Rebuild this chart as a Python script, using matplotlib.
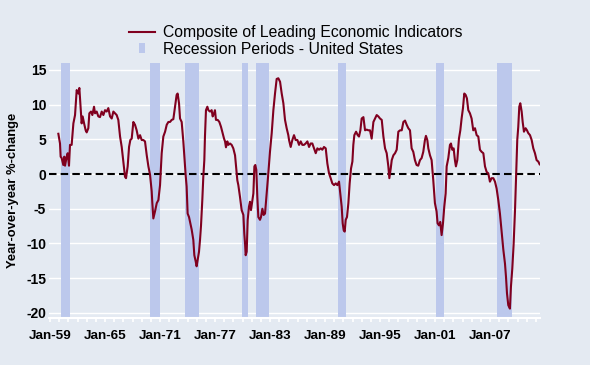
import numpy as np
import matplotlib
matplotlib.use("Agg")
import matplotlib.pyplot as plt
from matplotlib.lines import Line2D

plt.rcParams["font.family"] = ["Liberation Sans", "DejaVu Sans"]

# Composite of Leading Economic Indicators, y/y % change
years = [
    1959.91, 1960.09, 1960.16, 1960.27, 1960.45, 1960.56, 1960.64, 1960.82, 1960.93, 1961.07,
    1961.18, 1961.36, 1961.55, 1961.73, 1961.91, 1962.09, 1962.20, 1962.35, 1962.45, 1962.56,
    1962.75, 1962.89, 1963.00, 1963.18, 1963.29, 1963.47, 1963.62, 1963.80, 1963.91, 1964.09,
    1964.27, 1964.45, 1964.64, 1964.82, 1965.00, 1965.18, 1965.36, 1965.55, 1965.73, 1965.91,
    1966.09, 1966.27, 1966.45, 1966.64, 1966.82, 1967.00, 1967.18, 1967.29, 1967.47, 1967.62,
    1967.76, 1967.91, 1968.09, 1968.27, 1968.45, 1968.64, 1968.82, 1969.00, 1969.18, 1969.36,
    1969.55, 1969.73, 1969.91, 1970.09, 1970.16, 1970.27, 1970.45, 1970.64, 1970.82, 1971.00,
    1971.18, 1971.36, 1971.55, 1971.73, 1971.91,
    1972.09, 1972.27, 1972.45, 1972.63, 1972.81, 1972.92, 1973.07, 1973.18, 1973.36, 1973.54,
    1973.65, 1973.79, 1973.90, 1974.01, 1974.16, 1974.30, 1974.45, 1974.63, 1974.74, 1974.89,
    1974.99, 1975.10, 1975.25, 1975.36, 1975.47, 1975.61, 1975.72, 1975.83, 1975.90, 1976.01,
    1976.16, 1976.27, 1976.45, 1976.63, 1976.74, 1976.89, 1976.99, 1977.10, 1977.29, 1977.47,
    1977.65, 1977.79, 1977.98, 1978.09, 1978.19, 1978.34, 1978.45, 1978.63, 1978.81, 1978.99,
    1979.18, 1979.29, 1979.43, 1979.54, 1979.72, 1979.90, 1980.09, 1980.19, 1980.27, 1980.34,
    1980.45, 1980.56, 1980.70, 1980.81, 1980.92, 1981.07, 1981.18, 1981.29, 1981.39, 1981.50,
    1981.61, 1981.72, 1981.90, 1982.01, 1982.16, 1982.30, 1982.45, 1982.63, 1982.81, 1982.99,
    1983.18, 1983.36, 1983.54, 1983.72, 1983.90, 1984.09, 1984.27, 1984.45, 1984.63, 1984.81,
    1984.99,
    1985.07, 1985.25, 1985.43, 1985.61, 1985.79, 1985.98, 1986.16, 1986.34, 1986.52, 1986.70,
    1986.88, 1987.07, 1987.25, 1987.43, 1987.61, 1987.79, 1987.98, 1988.16, 1988.34, 1988.52,
    1988.70, 1988.88, 1989.07, 1989.25, 1989.43, 1989.61, 1989.79, 1989.98, 1990.16, 1990.34,
    1990.52, 1990.67, 1990.81, 1990.92, 1991.03, 1991.14, 1991.25, 1991.39, 1991.54, 1991.68,
    1991.83, 1991.98, 1992.08, 1992.19, 1992.38, 1992.56, 1992.70, 1992.85, 1992.99, 1993.18,
    1993.36, 1993.54, 1993.72, 1993.90, 1994.08, 1994.27, 1994.45, 1994.63, 1994.81, 1994.99,
    1995.18, 1995.36, 1995.54, 1995.72, 1995.90, 1996.01, 1996.16, 1996.27, 1996.45, 1996.63,
    1996.81, 1996.99, 1997.18, 1997.36, 1997.54, 1997.72, 1997.90, 1998.08,
    1998.26, 1998.44, 1998.62, 1998.80, 1998.98, 1999.16, 1999.35, 1999.53, 1999.71, 1999.89,
    2000.00, 2000.15, 2000.26, 2000.44, 2000.62, 2000.80, 2000.98, 2001.16, 2001.27, 2001.42,
    2001.56, 2001.71, 2001.86, 2002.00, 2002.15, 2002.26, 2002.44, 2002.62, 2002.73, 2002.87,
    2003.02, 2003.16, 2003.27, 2003.42, 2003.60, 2003.75, 2003.89, 2004.04, 2004.18, 2004.33,
    2004.47, 2004.62, 2004.80, 2004.98, 2005.16, 2005.35, 2005.53, 2005.71, 2005.89, 2006.07,
    2006.26, 2006.44, 2006.62, 2006.80, 2006.98, 2007.16, 2007.35, 2007.53, 2007.71, 2007.89,
    2008.07, 2008.26, 2008.44, 2008.62, 2008.73, 2008.84, 2008.98, 2009.16, 2009.27, 2009.42,
    2009.56, 2009.71, 2009.86, 2009.96, 2010.07, 2010.18, 2010.29, 2010.44, 2010.55, 2010.69,
    2010.87, 2011.02, 2011.16, 2011.35, 2011.53, 2011.71, 2011.89, 2012.07, 2012.25, 2012.40,
]
lei_yoy = [
    5.8, 4.4, 2.5, 2.3, 1.3, 2.5, 1.2, 2.5, 3.0, 1.2,
    4.2, 4.2, 7.3, 8.5, 12.1, 11.6, 12.4, 9.2, 7.3, 8.3,
    7.1, 6.3, 6.0, 6.6, 8.75, 9.0, 8.5, 9.7, 8.75, 9.0,
    8.3, 8.2, 9.0, 8.5, 9.2, 9.0, 9.5, 8.3, 8.0, 9.0,
    8.75, 8.5, 7.8, 5.4, 3.9, 1.8, -0.4, -0.6, 1.1, 3.9,
    4.9, 5.1, 7.5, 7.1, 6.3, 5.1, 5.6, 4.9, 4.9, 4.7,
    2.7, 1.1, -0.1, -2.5, -4.2, -6.4, -5.4, -4.2, -3.75, -1.6,
    3.0, 5.4, 6.1, 7.1, 7.5,
    7.5, 7.8, 7.9, 9.7, 11.4, 11.6, 10.2, 8.0, 7.5, 4.7,
    2.5, -0.1, -1.8, -5.7, -6.2, -7.1, -8.0, -9.5, -11.7, -12.6,
    -13.3, -12.4, -11.2, -9.5, -7.4, -3.75, -0.4, 2.0, 5.4, 9.2,
    9.7, 9.2, 9.0, 9.2, 8.3, 8.75, 9.2, 7.8, 7.8, 7.5,
    6.8, 6.1, 5.1, 4.7, 3.85, 4.7, 4.2, 4.4, 4.2, 3.7,
    2.7, 1.1, -0.9, -1.6, -3.3, -5.2, -5.9, -8.6, -10.0, -11.7,
    -11.2, -6.6, -4.7, -4.0, -5.2, -3.75, -2.8, 1.1, 1.3, 0.6,
    -3.3, -6.2, -6.6, -6.2, -5.0, -5.9, -5.7, -2.8, 0.1, 3.2,
    5.9, 9.2, 11.6, 13.7, 13.8, 13.3, 11.6, 10.2, 7.8, 6.6,
    5.6,
    4.9, 3.9, 4.9, 5.6, 4.9, 4.9, 4.2, 4.7, 4.2, 4.2,
    4.4, 4.7, 3.9, 4.4, 4.4, 3.7, 3.0, 3.7, 3.5, 3.7,
    3.5, 3.9, 3.7, 1.5, 0.1, -0.6, -1.35, -1.6, -1.35, -1.6,
    -1.1, -3.0, -4.7, -7.1, -8.1, -8.3, -6.6, -6.2, -4.2, -1.35,
    0.8, 1.8, 4.2, 5.6, 6.1, 5.6, 5.4, 6.3, 8.0, 8.2,
    6.3, 6.4, 6.3, 6.3, 5.1, 7.5, 8.0, 8.5, 8.3, 8.0,
    7.8, 5.4, 3.7, 3.0, 1.1, -0.6, 0.8, 2.0, 2.7, 3.0,
    3.5, 6.1, 6.3, 6.3, 7.5, 7.7, 7.1, 6.6,
    6.3, 3.7, 3.2, 2.0, 1.3, 1.2, 2.0, 2.3, 3.2, 4.9,
    5.5, 4.9, 3.7, 2.7, 2.0, -0.9, -4.2, -5.4, -7.1, -7.4,
    -6.9, -8.8, -7.1, -4.7, -2.8, 1.1, 2.3, 4.2, 4.4, 3.5,
    3.7, 2.0, 1.1, 2.0, 5.1, 6.3, 8.0, 9.5, 11.6, 11.4,
    10.9, 9.2, 8.75, 8.0, 6.3, 6.6, 5.6, 5.4, 3.5, 3.2,
    3.0, 1.1, 0.3, 0.1, -1.1, -0.6, -0.6, -1.1, -2.1, -3.75,
    -5.7, -8.3, -10.9, -12.9, -14.8, -17.2, -18.9, -19.4, -16.25, -13.6,
    -10.2, -5.4, 0.6, 4.9, 6.8, 9.7, 10.2, 9.0, 7.5, 6.1,
    6.6, 6.3, 5.9, 5.6, 4.9, 3.7, 3.0, 2.0, 1.8, 1.4,
]

# US recession periods (NBER)
rec_start = [1960.20, 1969.91, 1973.72, 1979.94, 1981.46, 1990.41, 2001.09, 2007.75]
rec_end = [1961.18, 1971.00, 1975.25, 1980.59, 1982.88, 1991.31, 2001.97, 2009.38]

tick_years = [1959, 1965, 1971, 1977, 1983, 1989, 1995, 2001, 2007]
tick_labels = ["Jan-59", "Jan-65", "Jan-71", "Jan-77", "Jan-83",
               "Jan-89", "Jan-95", "Jan-01", "Jan-07"]
y_ticks = [-20, -15, -10, -5, 0, 5, 10, 15]

BG = "#e4eaf2"
SHADE = "#bcc8ec"
RED = "#80001f"

fig = plt.figure(figsize=(5.9, 3.65), dpi=100, facecolor=BG)
ax = fig.add_axes([49 / 590, 1 - 318 / 365, 491 / 590, 255 / 365], facecolor=BG)

for yv in y_ticks:
    ax.axhline(yv, color="white", lw=1.0, zorder=1)

for s, e in zip(rec_start, rec_end):
    ax.axvspan(s, e, color=SHADE, lw=0, zorder=2)

ax.axhline(0, color="black", lw=1.5, dashes=(3.6, 2.0), zorder=3)
ax.plot(years, lei_yoy, color=RED, lw=1.5, zorder=4)

ax.set_xlim(1958.89, 2012.44)
ax.set_ylim(-20.75, 16.0)

ax.set_xticks(tick_years)
ax.set_xticklabels(tick_labels, fontsize=9.7, fontweight="bold")
ax.set_xticks(np.arange(1959, 2013), minor=True)
ax.tick_params(axis="x", which="both", direction="out", length=3, width=1.2,
               color="white", pad=5.5)

ax.set_yticks(y_ticks)
ax.set_yticklabels([str(v) for v in y_ticks], fontsize=10, fontweight="bold")
ax.tick_params(axis="y", length=0, pad=2)

for side in ["top", "right", "left"]:
    ax.spines[side].set_visible(False)
ax.spines["bottom"].set_color("white")
ax.spines["bottom"].set_linewidth(1.5)

ax.set_ylabel("Year-over-year %-change", fontsize=9.4, fontweight="bold")
ax.yaxis.set_label_coords(-0.0605, 0.5)

handles = [
    Line2D([], [], color=RED, lw=1.5),
    Line2D([], [], ls="none", color=SHADE,
           marker=[(-0.3, -0.5), (0.3, -0.5), (0.3, 0.5), (-0.3, 0.5)],
           markersize=7.5, markeredgewidth=0),
]
labels = ["Composite of Leading Economic Indicators",
          "Recession Periods - United States"]
fig.legend(handles, labels, loc="upper left",
           bbox_to_anchor=(129 / 590, 1 - 25 / 365), frameon=False,
           fontsize=11.3, handlelength=1.66, handletextpad=0.5,
           labelspacing=0.12, borderpad=0, borderaxespad=0)

fig.savefig("out.png", dpi=100, facecolor=BG)
